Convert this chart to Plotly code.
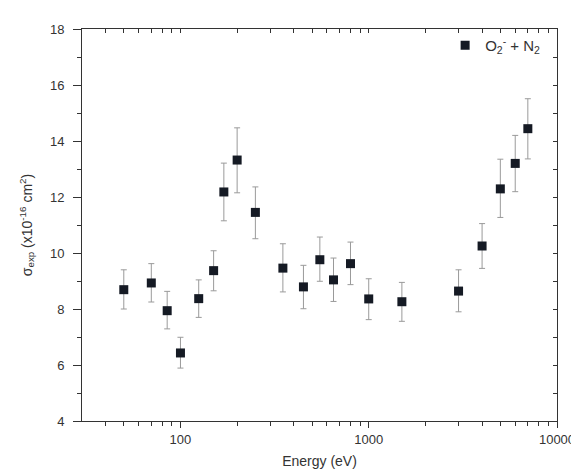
import plotly.graph_objects as go

energy = [50, 70, 85, 100, 125, 150, 170, 200, 250, 350, 450, 550, 650, 800, 1000, 1500, 3000, 4000, 5000, 6000, 7000]
sigma = [8.69, 8.93, 7.94, 6.43, 8.37, 9.37, 12.18, 13.32, 11.45, 9.46, 8.79, 9.76, 9.04, 9.62, 8.36, 8.26, 8.64, 10.25, 12.29, 13.20, 14.44]
err_plus = [0.71, 0.69, 0.69, 0.56, 0.67, 0.71, 1.03, 1.15, 0.91, 0.87, 0.77, 0.81, 0.78, 0.77, 0.72, 0.69, 0.76, 0.80, 1.06, 1.00, 1.07]
err_minus = [0.69, 0.68, 0.65, 0.54, 0.67, 0.72, 1.03, 1.17, 0.94, 0.85, 0.78, 0.77, 0.77, 0.75, 0.74, 0.70, 0.74, 0.80, 1.02, 1.01, 1.08]

y_ticks = [4, 6, 8, 10, 12, 14, 16, 18]
y_minor_ticks = [5, 7, 9, 11, 13, 15, 17]
x_ticks = [100, 1000, 10000]
x_tick_labels = ["100", "1000", "10000"]
x_minor_ticks = [40, 50, 60, 70, 80, 90, 200, 300, 400, 500, 600, 700, 800, 900,
                 2000, 3000, 4000, 5000, 6000, 7000, 8000, 9000]

FONT = "Liberation Sans, Arial, sans-serif"
AX = "#333333"
xr = [1.477, 4.0]
yr = [4, 18]

fig = go.Figure()
fig.add_trace(go.Scatter(
    x=energy, y=sigma, mode="markers",
    marker=dict(symbol="square", size=9, color="#151a24", line=dict(width=0)),
    error_y=dict(type="data", array=err_plus, arrayminus=err_minus, symmetric=False,
                 color="#9a9a9a", thickness=1, width=3),
    name="O<sub>2</sub><sup>-</sup> + N<sub>2</sub>",
    showlegend=True,
))
# helper traces so the extra tick axes are drawn
fig.add_trace(go.Scatter(x=[energy[0]], y=[sigma[0]], xaxis="x2", yaxis="y2",
                         mode="markers", marker=dict(opacity=0), showlegend=False, hoverinfo="skip"))
fig.add_trace(go.Scatter(x=[energy[0]], y=[sigma[0]], xaxis="x3", yaxis="y3",
                         mode="markers", marker=dict(opacity=0), showlegend=False, hoverinfo="skip"))

common = dict(showgrid=False, zeroline=False, showline=True, linecolor=AX, linewidth=1,
              tickcolor=AX, tickwidth=1)

fig.update_layout(
    width=579, height=474,
    margin=dict(l=74, r=22, t=21, b=61),
    paper_bgcolor="white", plot_bgcolor="white",
    font=dict(family=FONT, size=13, color=AX),
    showlegend=True,
    legend=dict(x=0.975, y=1.0, xanchor="right", yanchor="top",
                bgcolor="rgba(0,0,0,0)", font=dict(size=15, color=AX),
                itemwidth=30),
    xaxis=dict(type="log", range=xr, tickvals=x_ticks, ticktext=x_tick_labels,
               ticks="outside", ticklen=6, ticklabelstandoff=0,
               title=dict(text="Energy (eV)", font=dict(size=14, color=AX), standoff=10),
               tickfont=dict(size=13, color=AX), **common),
    yaxis=dict(range=yr, tickvals=y_ticks,
               ticks="outside", ticklen=8, ticklabelstandoff=6,
               title=dict(text="σ<sub>exp</sub> (x10<sup>-16</sup> cm<sup>2</sup>)",
                          font=dict(size=14, color=AX), standoff=14),
               tickfont=dict(size=13, color=AX), **common),
    # top/right mirrored axes with inside ticks (majors + minors)
    xaxis2=dict(type="log", range=xr, overlaying="x", side="top",
                tickvals=x_ticks + x_minor_ticks, showticklabels=False,
                ticks="inside", ticklen=4, **common),
    yaxis2=dict(range=yr, overlaying="y", side="right",
                tickvals=y_ticks + y_minor_ticks, showticklabels=False,
                ticks="inside", ticklen=4, **common),
    # bottom/left minor ticks
    xaxis3=dict(type="log", range=xr, overlaying="x", side="bottom",
                tickvals=x_minor_ticks, showticklabels=False,
                ticks="outside", ticklen=4, **common),
    yaxis3=dict(range=yr, overlaying="y", side="left",
                tickvals=y_minor_ticks, showticklabels=False,
                ticks="outside", ticklen=4, **common),
)

fig.write_html("out.html")
